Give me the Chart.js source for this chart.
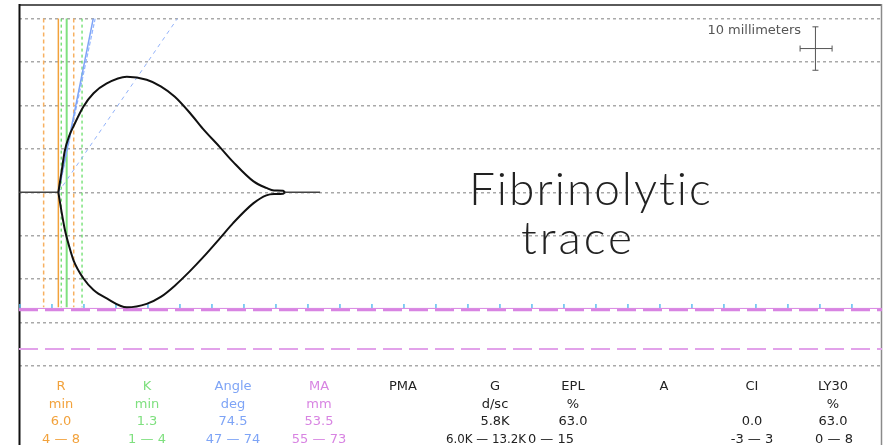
<!DOCTYPE html>
<html>
<head>
<meta charset="utf-8">
<script src="https://cdn.jsdelivr.net/npm/chart.js@4.4.0/dist/chart.umd.min.js"></script>
<style>
  html, body { margin: 0; padding: 0; background: #fff; }
  #wrap { width: 883px; height: 445px; }
</style>
</head>
<body>
<div id="wrap"><canvas id="teg" width="883" height="445"></canvas></div>
<script>
// x = time in minutes (2 mm/min paper speed), y = amplitude in mm
const traceTime  = [6.0, 6.5, 7.0, 7.7, 8.4, 9.9, 11.5, 13.5, 16.7, 19.8, 22.0, 24.2, 26.6, 28.6, 31.3, 33.3, 36.5, 38.5, 39.7, 41.1, 41.4];
const traceUpper = [0, 4.7, 9.5, 13.0, 15.3, 19.7, 22.8, 25.0, 26.6, 25.9, 24.4, 22.0, 18.2, 14.6, 10.3, 7.0, 2.5, 1.0, 0.4, 0.35, 0];
const traceLower = [0, -4.5, -8.5, -12.5, -15.8, -19.8, -22.5, -24.4, -26.5, -25.7, -24.1, -21.5, -18.1, -15.0, -10.5, -7.1, -2.5, -0.7, -0.4, -0.35, 0];
const leadIn  = [-0.15, 6.0];
const leadOut = [41.4, 46.9];

// marker lines (minutes) and their vertical span (mm)
const rLine  = [6.0];
const rRange = [3.7, 8.4];
const kLine  = [7.3];
const kRange = [6.45, 9.7];
const markerSpan = [40, -26.5];

// angle tangents: start at R, end on the +40 mm line
const angleStart = [6.0, 0];
const angle745End = [11.45, 40];
const angle74End  = [11.75, 40];
const angle47End  = [24.6, 40];

// MA value and normal range, drawn as half amplitudes below the baseline
const maValue = -26.75;
const maRange = [-27.1, -36.1];

const xTicks = [0, 5, 10, 15, 20, 25, 30, 35, 40, 45, 50, 55, 60, 65, 70, 75, 80, 85, 90, 95, 100, 105, 110, 115, 120, 125, 130];
const yGrid = [-40, -30, -20, -10, 0, 10, 20, 30, 40];

// 10 mm scale key
const keyVertical   = [[124.3, 28.1], [124.3, 38.1]];
const keyHorizontal = [[121.9, 33.1], [126.9, 33.1]];

const paramNames  = ["R", "K", "Angle", "MA", "PMA", "G", "EPL", "A", "CI", "LY30"];
const paramUnits  = ["min", "min", "deg", "mm", "", "d/sc", "%", "", "", "%"];
const paramValues = ["6.0", "1.3", "74.5", "53.5", "", "5.8K", "63.0", "", "0.0", "63.0"];
const paramRanges = ["4 \u2014 8", "1 \u2014 4", "47 \u2014 74", "55 \u2014 73", "", "6.0K \u2014 13.2K", "0 \u2014 15", "", "-3 \u2014 3", "0 \u2014 8"];

const ORANGE = "#f2a23c";
const GREEN = "#7fe07f";
const BLUE = "#7ea4f6";
const MAGENTA = "#d884e2";
const paramColors = [ORANGE, GREEN, BLUE, MAGENTA, "#222", "#222", "#222", "#222", "#222", "#222"];

const pts = (xs, ys) => xs.map((x, i) => ({ x: x, y: ys[i] }));
const seg = (a, b) => [{ x: a[0], y: a[1] }, { x: b[0], y: b[1] }];
const vline = (x) => [{ x: x, y: markerSpan[0] }, { x: x, y: markerSpan[1] }];
const hline = (y) => [{ x: -0.15, y: y }, { x: 134.7, y: y }];

function lineDs(data, color, width, dash, order) {
    return {
        data: data,
        showLine: true,
        borderColor: color,
        borderWidth: width,
        borderDash: dash || [],
        pointRadius: 0,
        order: order,
    };
}

const datasets = [
    Object.assign(lineDs(pts(traceTime, traceUpper), "#111", 2, null, 0), { cubicInterpolationMode: "monotone" }),
    Object.assign(lineDs(pts(traceTime, traceLower), "#111", 2, null, 0), { cubicInterpolationMode: "monotone" }),
    lineDs(seg([leadIn[0], 0], [leadIn[1], 0]), "#444", 1.5, null, 1),
    lineDs(seg([leadOut[0], 0], [leadOut[1], 0]), "#444", 1.5, null, 1),
    lineDs(seg(angleStart, angle745End), BLUE, 1.5, null, 2),
    lineDs(seg(angleStart, angle74End), "#93b5ff", 1.2, [4, 2], 2),
    lineDs(seg(angleStart, angle47End), "#93b3fa", 1, [4, 4], 2),
    lineDs(vline(rLine[0]), ORANGE, 1.5, null, 3),
    lineDs(vline(rRange[0]), "#f7b060", 1.5, [4, 3], 3),
    lineDs(vline(rRange[1]), "#f7b060", 1.5, [4, 3], 3),
    lineDs(vline(kLine[0]), GREEN, 2, null, 3),
    lineDs(vline(kRange[0]), "#5fdc5f", 1.2, [3, 3], 3),
    lineDs(vline(kRange[1]), "#5fdc5f", 1.2, [3, 3], 3),
    lineDs(hline(maValue), MAGENTA, 1, null, 4),
    lineDs(hline(maRange[0]), MAGENTA, 2.5, [19, 7], 4),
    lineDs(hline(maRange[1]), "#e2a2ea", 2, [19, 7], 4),
    {
        data: xTicks.map(t => ({ x: t, y: -26.2 })),
        showLine: false,
        pointStyle: "line",
        rotation: 90,
        pointRadius: 2,
        pointBorderColor: "#5cbcf0",
        pointBorderWidth: 1.5,
        order: 5,
    },
    Object.assign(lineDs(seg(keyVertical[0], keyVertical[1]), "#555", 1, null, 2), {
        pointStyle: "line", pointRadius: 3, pointBorderColor: "#555", pointBorderWidth: 1,
    }),
    Object.assign(lineDs(seg(keyHorizontal[0], keyHorizontal[1]), "#555", 1, null, 2), {
        pointStyle: "line", rotation: 90, pointRadius: 3, pointBorderColor: "#555", pointBorderWidth: 1,
    }),
];

// frame, key label, big label and parameter table
const decorations = {
    id: "decorations",
    beforeDatasetsDraw(chart) {
        const { ctx, chartArea: a } = chart;
        ctx.save();
        ctx.lineWidth = 2;
        ctx.strokeStyle = "#5a5a5a";
        ctx.beginPath(); ctx.moveTo(a.left, a.top - 1); ctx.lineTo(a.right, a.top - 1); ctx.stroke();
        ctx.strokeStyle = "#111";
        ctx.beginPath(); ctx.moveTo(a.left + 0.5, a.top - 2); ctx.lineTo(a.left + 0.5, a.bottom); ctx.stroke();
        ctx.lineWidth = 1.5;
        ctx.strokeStyle = "#8a8a8a";
        ctx.beginPath(); ctx.moveTo(a.right - 0.5, a.top - 2); ctx.lineTo(a.right - 0.5, a.bottom); ctx.stroke();

        ctx.fillStyle = "#222";
        ctx.font = "300 46px Lato";
        ctx.textAlign = "left";
        ctx.textBaseline = "alphabetic";
        ctx.letterSpacing = "2px";
        ctx.fillText("Fibrinolytic", 469, 205);
        ctx.letterSpacing = "3px";
        ctx.fillText("trace", 521, 254);
        ctx.restore();
    },
    afterDraw(chart) {
        const { ctx, scales: { x, y } } = chart;
        ctx.save();
        ctx.font = "13px 'DejaVu Sans'";
        ctx.fillStyle = "#555";
        ctx.textAlign = "right";
        ctx.textBaseline = "alphabetic";
        ctx.fillText("10 millimeters", x.getPixelForValue(keyHorizontal[0][0]) + 1, y.getPixelForValue(keyVertical[1][1]) + 7);

        const colX = [61, 147, 233, 319, 403, 495, 573, 664, 752, 833];
        const rangeX = [61, 147, 233, 319, 403, 486, 551, 664, 752, 834];
        const rows = [paramNames, paramUnits, paramValues];
        const baselines = [390, 408, 425, 443];
        ctx.textAlign = "center";
        for (let i = 0; i < paramNames.length; i++) {
            ctx.fillStyle = paramColors[i];
            rows.forEach((row, r) => ctx.fillText(row[i], colX[i], baselines[r]));
            ctx.fillText(paramRanges[i], rangeX[i], baselines[3], 80);
        }
        ctx.restore();
    },
};

new Chart(document.getElementById("teg"), {
    type: "scatter",
    data: { datasets: datasets },
    options: {
        responsive: false,
        animation: false,
        events: [],
        layout: { autoPadding: false, padding: { left: 19, top: 6, right: 1, bottom: 0 } },
        plugins: { legend: { display: false }, tooltip: { enabled: false } },
        scales: {
            x: { type: "linear", display: false, min: -0.15, max: 134.7 },
            y: {
                type: "linear",
                min: -58.2,
                max: 42.9,
                afterBuildTicks: (s) => { s.ticks = yGrid.map(v => ({ value: v })); },
                ticks: { display: false },
                border: { display: false, dash: [3, 3] },
                grid: { color: "#a9a9a9", lineWidth: 1.5, drawTicks: false },
            },
        },
    },
    plugins: [decorations],
});
</script>
</body>
</html>
